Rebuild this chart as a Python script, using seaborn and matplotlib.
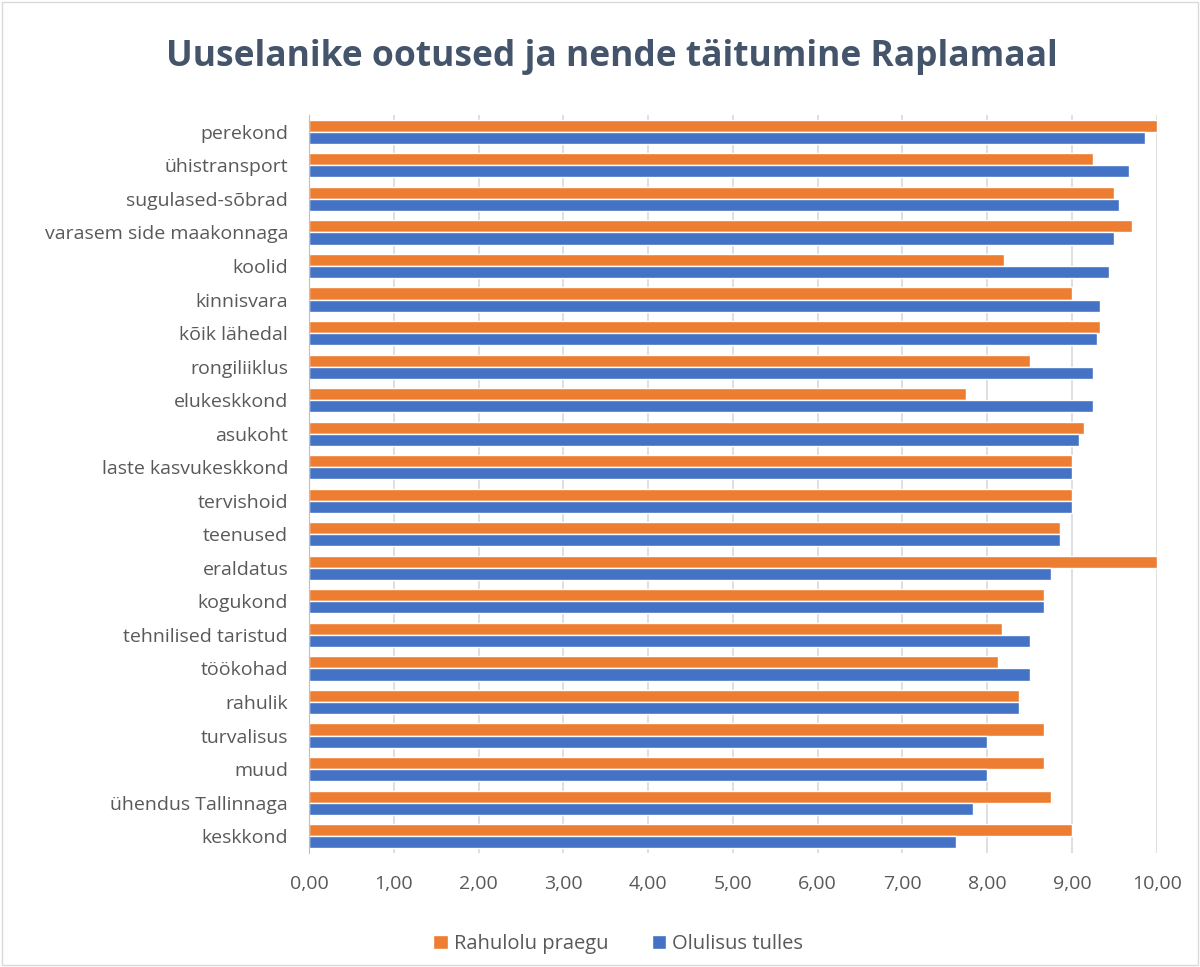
import matplotlib.pyplot as plt
import seaborn as sns
import pandas as pd
from matplotlib.patches import Rectangle

categories = [
    "perekond", "ühistransport", "sugulased-sõbrad", "varasem side maakonnaga",
    "koolid", "kinnisvara", "kõik lähedal", "rongiliiklus", "elukeskkond",
    "asukoht", "laste kasvukeskkond", "tervishoid", "teenused", "eraldatus",
    "kogukond", "tehnilised taristud", "töökohad", "rahulik", "turvalisus",
    "muud", "ühendus Tallinnaga", "keskkond",
]
rahulolu = [10.0, 9.25, 9.5, 9.71, 8.2, 9.0, 9.33, 8.5, 7.75, 9.14, 9.0,
            9.0, 8.86, 10.0, 8.67, 8.17, 8.13, 8.38, 8.67, 8.67, 8.75, 9.0]
olulisus = [9.86, 9.67, 9.56, 9.5, 9.44, 9.33, 9.29, 9.25, 9.25, 9.08, 9.0,
            9.0, 8.86, 8.75, 8.67, 8.5, 8.5, 8.38, 8.0, 8.0, 7.83, 7.63]
series = ["Rahulolu praegu", "Olulisus tulles"]

df = pd.DataFrame({
    "kategooria": categories * 2,
    "väärtus": rahulolu + olulisus,
    "seeria": [series[0]] * len(categories) + [series[1]] * len(categories),
})

sns.set_style("white")
plt.rcParams["font.family"] = ["Open Sans", "DejaVu Sans"]

fig = plt.figure(figsize=(12, 9.67), dpi=100)
ax = fig.add_axes([0.2575, 0.118, 0.7065, 0.763])

sns.barplot(
    data=df, x="väärtus", y="kategooria", hue="seeria", orient="h",
    palette=["#ED7D31", "#4472C4"], width=0.72, ax=ax, saturation=1,
)

ax.set_xlim(0, 10)
ax.set_xticks(range(0, 11))
ax.set_xticklabels([f"{i},00" for i in range(11)])
ax.set_xlabel("")
ax.set_ylabel("")
ax.grid(axis="x", color="#D9D9D9", linewidth=1.2)
ax.set_axisbelow(True)
for s in ["top", "right", "bottom"]:
    ax.spines[s].set_visible(False)
ax.spines["left"].set_color("#BFBFBF")
ax.tick_params(axis="both", length=0, labelsize=14, colors="#595959")
ax.tick_params(axis="x", pad=16)
ax.tick_params(axis="y", pad=15)

leg = ax.legend(
    loc="upper center", bbox_to_anchor=(0.365, -0.085), ncol=2, frameon=False,
    fontsize=14.5, handlelength=0.7, handleheight=0.7, columnspacing=2.2,
    handletextpad=0.3,
)
for t in leg.get_texts():
    t.set_color("#595959")

fig.text(0.51, 0.941, "Uuselanike ootused ja nende täitumine Raplamaal",
         ha="center", va="center", fontsize=25.5, fontweight="bold", color="#44546A")

fig.patches.append(Rectangle((0.002, 0.002), 0.996, 0.996, transform=fig.transFigure,
                             fill=False, edgecolor="#D9D9D9", linewidth=1))

fig.savefig("out.png", dpi=100)
